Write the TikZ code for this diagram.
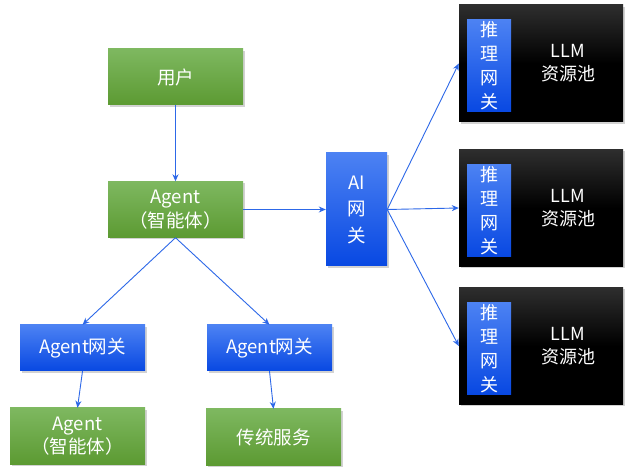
\documentclass[tikz,border=0pt]{standalone}
\usepackage{fontspec}
\setmainfont{Noto Sans CJK SC}
\usetikzlibrary{shadows,arrows.meta}
\definecolor{gtop}{HTML}{7EB860}
\definecolor{gbot}{HTML}{5C9A32}
\definecolor{btop}{HTML}{4C82F3}
\definecolor{bbot}{HTML}{0848E2}
\definecolor{arr}{HTML}{2D68E8}
\definecolor{ktop}{HTML}{2E2E2E}
\tikzset{
  box/.style={rectangle, inner sep=0pt, text=white, align=center,
    font=\fontsize{18.5}{23.5}\selectfont,
    drop shadow={shadow xshift=1.5pt, shadow yshift=-2pt, opacity=0.35}},
  greenbox/.style={box, top color=gtop, bottom color=gbot, minimum width=135pt, minimum height=56pt},
  bluebox/.style={box, top color=btop, bottom color=bbot},
  llmbox/.style={box, top color=ktop, bottom color=black, middle color=black, minimum width=164pt, minimum height=117pt},
  innerblue/.style={rectangle, inner sep=0pt, top color=btop, bottom color=bbot, text=white, align=center,
    minimum width=44pt, minimum height=92pt, font=\fontsize{18}{24}\selectfont},
  llmtext/.style={text=white, align=center, inner sep=0pt, font=\fontsize{18}{23}\selectfont},
  conn/.style={draw=arr, line width=0.9pt, -{Stealth[length=7pt,width=6pt]}}
}
\begin{document}
\begin{tikzpicture}[x=1pt,y=-1pt]
\useasboundingbox[fill=white] (0,0) rectangle (630,473);

\node[greenbox] (user) at (175.5,77) {用户};
\node[greenbox] (agent) at (175.5,209.5) {Agent\\（智能体）};
\node[bluebox, minimum width=61pt, minimum height=113pt, font=\fontsize{18.5}{26.5}\selectfont] (ai) at (356.5,209.5) {AI\\网\\关};

\node[bluebox, minimum width=125pt, minimum height=46pt] (gwL) at (82.5,348) {Agent网关};
\node[bluebox, minimum width=125pt, minimum height=46pt] (gwR) at (269.5,348) {Agent网关};
\node[greenbox] (agentL) at (77.5,436) {Agent\\（智能体）};
\node[greenbox] (svc) at (273.5,437) {传统服务};

\foreach \i/\y in {1/63.5, 2/208, 3/346} {
  \node[llmbox] (llm\i) at (541,\y) {};
  \node[innerblue] (inf\i) at (489,\y+2.5) {推\\理\\网\\关};
  \node[llmtext] (txt\i) at (568,\y) {LLM\\资源池};
}

\draw[conn] (user) -- (agent);
\draw[conn] (agent.east) -- (ai.west);
\draw[conn] (agent.south) -- (gwL.north);
\draw[conn] (agent.south) -- (gwR.north);
\draw[conn] (gwL.south) -- (agentL.north);
\draw[conn] (gwR.south) -- (svc.north);
\draw[conn] (ai.east) -- (llm1.west);
\draw[conn] (ai.east) -- (llm2.west);
\draw[conn] (ai.east) -- (llm3.west);
\end{tikzpicture}
\end{document}
